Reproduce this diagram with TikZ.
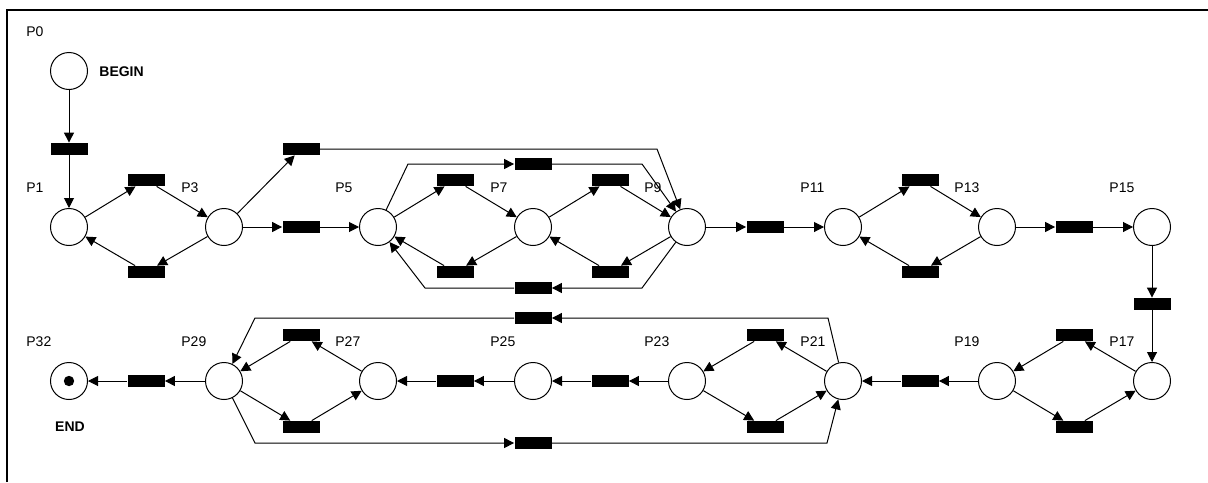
\documentclass[tikz,border=0pt]{standalone}
\usepackage{fontspec}
\setmainfont{Liberation Sans}
\usepackage{tikz}
\usetikzlibrary{arrows.meta, calc}

\begin{document}
\begin{tikzpicture}[
    x=0.5pt, y=-0.5pt,
    place/.style={circle, draw, line width=0.5pt, minimum size=18.5pt, inner sep=0pt},
    trans/.style={rectangle, fill=black, minimum width=18.5pt, minimum height=6pt, inner sep=0pt},
    arr/.style={-{Triangle[length=5pt,width=5pt]}, line width=0.5pt},
    lbl/.style={font=\fontsize{7}{8}\selectfont, anchor=west, inner sep=0pt},
    tag/.style={font=\fontsize{7}{8}\selectfont\bfseries, inner sep=0pt}
]
\useasboundingbox (0,0) rectangle (1208,482);
\draw[line width=1pt] (7,482) -- (7,10) -- (1208,10);

% places, upper row
\node[place] (p0)  at (69,71)   {};
\node[place] (p1)  at (69,227)  {};
\node[place] (p3)  at (224,227) {};
\node[place] (p5)  at (378,227) {};
\node[place] (p7)  at (533,227) {};
\node[place] (p9)  at (687,227) {};
\node[place] (p11) at (843,227) {};
\node[place] (p13) at (997,227) {};
\node[place] (p15) at (1152,227) {};
% places, lower row
\node[place] (p17) at (1152,381) {};
\node[place] (p19) at (997,381) {};
\node[place] (p21) at (843,381) {};
\node[place] (p23) at (687,381) {};
\node[place] (p25) at (533,381) {};
\node[place] (p27) at (378,381) {};
\node[place] (p29) at (224,381) {};
\node[place] (p32) at (69,381)  {};
\fill (p32) circle (2.6pt);

% labels
\node[lbl] (lp0)  at ($(p0)+(-43,-39)$)  {P0};
\node[lbl] (lp1)  at ($(p1)+(-43,-39)$)  {P1};
\node[lbl] (lp3)  at ($(p3)+(-43,-39)$)  {P3};
\node[lbl] (lp5)  at ($(p5)+(-43,-39)$)  {P5};
\node[lbl] (lp7)  at ($(p7)+(-43,-39)$)  {P7};
\node[lbl] (lp9)  at ($(p9)+(-43,-39)$)  {P9};
\node[lbl] (lp11) at ($(p11)+(-43,-39)$) {P11};
\node[lbl] (lp13) at ($(p13)+(-43,-39)$) {P13};
\node[lbl] (lp15) at ($(p15)+(-43,-39)$) {P15};
\node[lbl] (lp17) at ($(p17)+(-43,-39)$) {P17};
\node[lbl] (lp19) at ($(p19)+(-43,-39)$) {P19};
\node[lbl] (lp21) at ($(p21)+(-43,-39)$) {P21};
\node[lbl] (lp23) at ($(p23)+(-43,-39)$) {P23};
\node[lbl] (lp25) at ($(p25)+(-43,-39)$) {P25};
\node[lbl] (lp27) at ($(p27)+(-43,-39)$) {P27};
\node[lbl] (lp29) at ($(p29)+(-43,-39)$) {P29};
\node[lbl] (lp32) at ($(p32)+(-43,-39)$) {P32};
\node[tag, anchor=west] (begin) at ($(p0)+(30,1)$) {BEGIN};
\node[tag] (end) at ($(p32)+(1,46)$) {END};

% transitions
\node[trans] (t0)   at (69,149)  {};
\node[trans] (t1a)  at (146,180) {};
\node[trans] (t1b)  at (146,272) {};
\node[trans] (t3)   at (301,227) {};
\node[trans] (t3u)  at (301,149) {};
\node[trans] (t5a)  at (455,180) {};
\node[trans] (t5b)  at (455,272) {};
\node[trans] (t7a)  at (610,180) {};
\node[trans] (t7b)  at (610,272) {};
\node[trans] (t5u)  at (533,164) {};
\node[trans] (t5d)  at (533,288) {};
\node[trans] (t9)   at (765,227) {};
\node[trans] (t11a) at (920,180) {};
\node[trans] (t11b) at (920,272) {};
\node[trans] (t13)  at (1074,227) {};
\node[trans] (t15)  at (1152,304) {};
\node[trans] (t17a) at (1074,335) {};
\node[trans] (t17b) at (1074,427) {};
\node[trans] (t19)  at (920,381) {};
\node[trans] (t21a) at (765,335) {};
\node[trans] (t21b) at (765,427) {};
\node[trans] (t21u) at (533,318) {};
\node[trans] (t29d) at (533,443) {};
\node[trans] (t23)  at (610,381) {};
\node[trans] (t25)  at (455,381) {};
\node[trans] (t27a) at (301,335) {};
\node[trans] (t27b) at (301,427) {};
\node[trans] (t29)  at (146,381) {};

% arcs, upper row
\draw[arr] (p0) -- (t0);    \draw[arr] (t0) -- (p1);
\draw[arr] (p1) -- (t1a);   \draw[arr] (t1a) -- (p3);
\draw[arr] (p3) -- (t1b);   \draw[arr] (t1b) -- (p1);
\draw[arr] (p3) -- (t3);    \draw[arr] (t3) -- (p5);
\draw[arr] (p3) -- (t3u);   \draw[arr] (t3u) -- ($(p9|-t3u)+(-30,0)$) -- (p9);
\draw[arr] (p5) -- (t5a);   \draw[arr] (t5a) -- (p7);
\draw[arr] (p7) -- (t5b);   \draw[arr] (t5b) -- (p5);
\draw[arr] (p7) -- (t7a);   \draw[arr] (t7a) -- (p9);
\draw[arr] (p9) -- (t7b);   \draw[arr] (t7b) -- (p7);
\draw[arr] (p5) -- ($(p5|-t5u)+(30,0)$) -- (t5u);
\draw[arr] (t5u) -- ($(p9|-t5u)+(-45,0)$) -- (p9);
\draw[arr] (p9) -- ($(p9|-t5d)+(-45,0)$) -- (t5d);
\draw[arr] (t5d) -- ($(p5|-t5d)+(47,0)$) -- (p5);
\draw[arr] (p9) -- (t9);    \draw[arr] (t9) -- (p11);
\draw[arr] (p11) -- (t11a); \draw[arr] (t11a) -- (p13);
\draw[arr] (p13) -- (t11b); \draw[arr] (t11b) -- (p11);
\draw[arr] (p13) -- (t13);  \draw[arr] (t13) -- (p15);
\draw[arr] (p15) -- (t15);  \draw[arr] (t15) -- (p17);

% arcs, lower row
\draw[arr] (p17) -- (t17a); \draw[arr] (t17a) -- (p19);
\draw[arr] (p19) -- (t17b); \draw[arr] (t17b) -- (p17);
\draw[arr] (p19) -- (t19);  \draw[arr] (t19) -- (p21);
\draw[arr] (p21) -- (t21a); \draw[arr] (t21a) -- (p23);
\draw[arr] (p23) -- (t21b); \draw[arr] (t21b) -- (p21);
\draw[arr] (p21) -- ($(p21|-t21u)+(-15,0)$) -- (t21u);
\draw[arr] (t21u) -- ($(p29|-t21u)+(31,0)$) -- (p29);
\draw[arr] (p29) -- ($(p29|-t29d)+(31,0)$) -- (t29d);
\draw[arr] (t29d) -- ($(p21|-t29d)+(-16,0)$) -- (p21);
\draw[arr] (p23) -- (t23);  \draw[arr] (t23) -- (p25);
\draw[arr] (p25) -- (t25);  \draw[arr] (t25) -- (p27);
\draw[arr] (p27) -- (t27a); \draw[arr] (t27a) -- (p29);
\draw[arr] (p29) -- (t27b); \draw[arr] (t27b) -- (p27);
\draw[arr] (p29) -- (t29);  \draw[arr] (t29) -- (p32);
\end{tikzpicture}
\end{document}
